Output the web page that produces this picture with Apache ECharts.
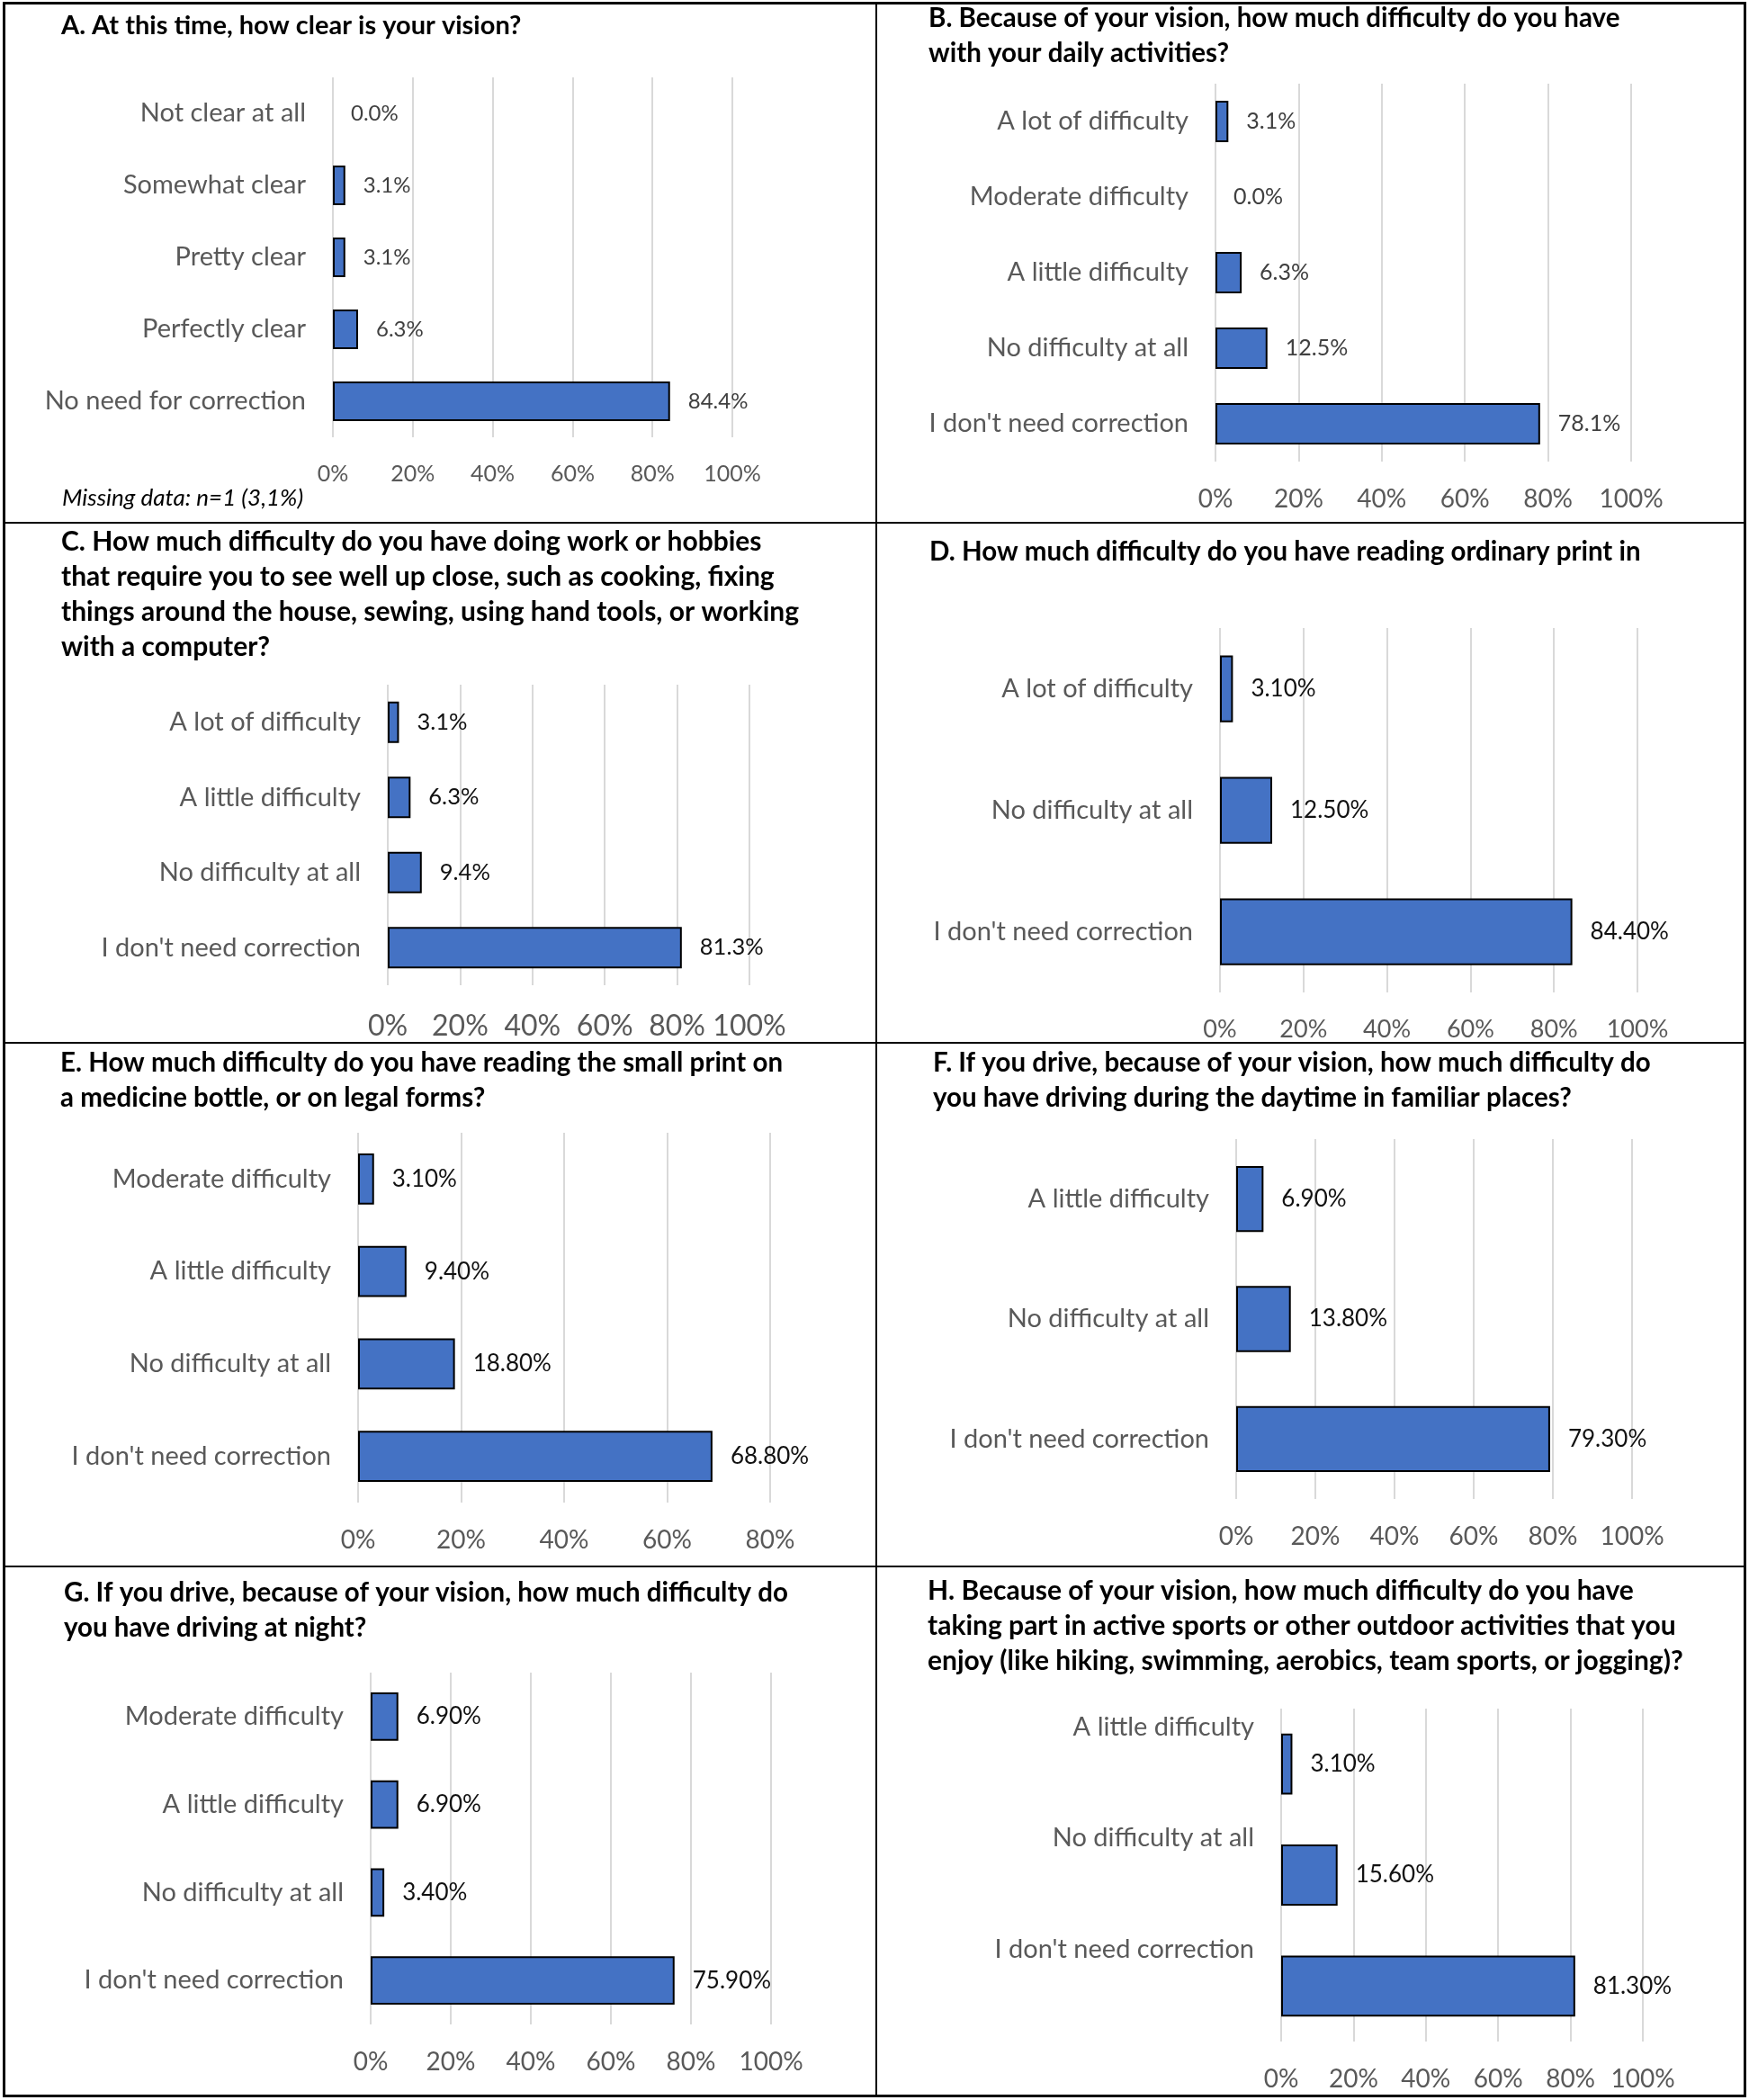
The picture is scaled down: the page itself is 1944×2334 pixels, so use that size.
<!DOCTYPE html>
<html>
<head>
<meta charset="utf-8">
<script src="https://cdn.jsdelivr.net/npm/echarts@6/dist/echarts.min.js"></script>
<style>
html,body{margin:0;padding:0;background:#fff;}
#chart{width:1944px;height:2334px;}
</style>
</head>
<body>
<div id="chart"></div>
<script>
// ---------------- DATA ----------------
const ticks = [0, 20, 40, 60, 80, 100];

const titleA = ['A. At this time, how clear is your vision?'];
const catsA = ['Not clear at all', 'Somewhat clear', 'Pretty clear', 'Perfectly clear', 'No need for correction'];
const valsA = [0.0, 3.1, 3.1, 6.3, 84.4];

const titleB = ['B. Because of your vision, how much difficulty do you have', 'with your daily activities?'];
const catsB = ['A lot of difficulty', 'Moderate difficulty', 'A little difficulty', 'No difficulty at all', "I don't need correction"];
const valsB = [3.1, 0.0, 6.3, 12.5, 78.1];

const titleC = ['C. How much difficulty do you have doing work or hobbies',
  'that require you to see well up close, such as cooking, fixing',
  'things around the house, sewing, using hand tools, or working',
  'with a computer?'];
const catsC = ['A lot of difficulty', 'A little difficulty', 'No difficulty at all', "I don't need correction"];
const valsC = [3.1, 6.3, 9.4, 81.3];

const titleD = ['D. How much difficulty do you have reading ordinary print in'];
const catsD = ['A lot of difficulty', 'No difficulty at all', "I don't need correction"];
const valsD = [3.1, 12.5, 84.4];

const titleE = ['E. How much difficulty do you have reading the small print on', 'a medicine bottle, or on legal forms?'];
const catsE = ['Moderate difficulty', 'A little difficulty', 'No difficulty at all', "I don't need correction"];
const valsE = [3.1, 9.4, 18.8, 68.8];

const titleF = ['F. If you drive, because of your vision, how much difficulty do', 'you have driving during the daytime in familiar places?'];
const catsF = ['A little difficulty', 'No difficulty at all', "I don't need correction"];
const valsF = [6.9, 13.8, 79.3];

const titleG = ['G. If you drive, because of your vision, how much difficulty do', 'you have driving at night?'];
const catsG = ['Moderate difficulty', 'A little difficulty', 'No difficulty at all', "I don't need correction"];
const valsG = [6.9, 6.9, 3.4, 75.9];

const titleH = ['H. Because of your vision, how much difficulty do you have',
  'taking part in active sports or other outdoor activities that you',
  'enjoy (like hiking, swimming, aerobics, team sports, or jogging)?'];
const catsH = ['A little difficulty', 'No difficulty at all', "I don't need correction"];
const valsH = [3.1, 15.6, 81.3];

const noteA = 'Missing data: n=1 (3,1%)';

// ---------------- LAYOUT / STYLE ----------------
const FONT = 'Lato';
const panels = [
  {title: titleA, cats: catsA, vals: valsA, dec: 1, max: 100, tx: 68,   ty: 9,    gl: 370,  gr: 814,  gt: 86,   gb: 486,  tick: 25, tickMargin: 28, valSize: 24, valColor: '#404040', titleSize: 29},
  {title: titleB, cats: catsB, vals: valsB, dec: 1, max: 100, tx: 1032, ty: 1,    gl: 1351, gr: 1813, gt: 93,   gb: 513,  tick: 28, tickMargin: 28, valSize: 25, valColor: '#404040', titleSize: 29.5},
  {title: titleC, cats: catsC, vals: valsC, dec: 1, max: 100, tx: 68,   ty: 583,  gl: 431,  gr: 833,  gt: 761,  gb: 1095, tick: 32, tickMargin: 30, valSize: 25.5, valColor: '#111', titleSize: 30},
  {title: titleD, cats: catsD, vals: valsD, dec: 2, max: 100, tx: 1033, ty: 594,  gl: 1356, gr: 1820, gt: 698,  gb: 1103, tick: 27, tickMargin: 28, valSize: 26, valColor: '#111', titleSize: 29.5},
  {title: titleE, cats: catsE, vals: valsE, dec: 2, max: 80,  tx: 67,   ty: 1162, gl: 398,  gr: 856,  gt: 1259, gb: 1670, tick: 28, tickMargin: 28, valSize: 26, valColor: '#111', titleSize: 29.5},
  {title: titleF, cats: catsF, vals: valsF, dec: 2, max: 100, tx: 1037, ty: 1162, gl: 1374, gr: 1814, gt: 1266, gb: 1666, tick: 28, tickMargin: 28, valSize: 26, valColor: '#111', titleSize: 29.5},
  {title: titleG, cats: catsG, vals: valsG, dec: 2, max: 100, tx: 71,   ty: 1751, gl: 412,  gr: 857,  gt: 1859, gb: 2250, tick: 28, tickMargin: 28, valSize: 26, valColor: '#111', titleSize: 29.5},
  {title: titleH, cats: catsH, vals: valsH, dec: 2, max: 100, tx: 1031, ty: 1749, gl: 1424, gr: 1826, gt: 1899, gb: 2269, tick: 28, tickMargin: 28, valSize: 26, valColor: '#111', titleSize: 30, labelShift: 41}
];

const option = {
  backgroundColor: '#ffffff',
  animation: false,
  title: [],
  grid: [],
  xAxis: [],
  yAxis: [],
  series: [],
  graphic: []
};

panels.forEach((p, i) => {
  option.title.push({
    text: p.title.join('\n'),
    left: p.tx, top: p.ty, padding: 0,
    textStyle: {fontFamily: FONT, fontWeight: 'bold', fontSize: p.titleSize, lineHeight: 39, color: '#000'}
  });
  option.grid.push({
    left: p.gl, top: p.gt, width: p.gr - p.gl, height: p.gb - p.gt,
    containLabel: false, outerBoundsMode: 'none'
  });
  option.xAxis.push({
    type: 'value', gridIndex: i, min: 0, max: p.max, interval: 20,
    axisLine: {show: false}, axisTick: {show: false},
    splitLine: {show: true, lineStyle: {color: '#d9d9d9', width: 2}},
    axisLabel: {
      formatter: v => v + '%', color: '#595959', fontFamily: FONT,
      fontSize: p.tick, margin: p.tickMargin, showMinLabel: true, showMaxLabel: true
    }
  });
  const yLabel = {color: '#595959', fontFamily: FONT, fontSize: 29, margin: 30, interval: 0, hideOverlap: false};
  if (p.labelShift) {
    yLabel.lineHeight = p.labelShift * 2;
    yLabel.formatter = v => v + '\n\u00a0';
  }
  option.yAxis.push({
    type: 'category', gridIndex: i, inverse: true, data: p.cats,
    axisLine: {show: false}, axisTick: {show: false}, splitLine: {show: false},
    axisLabel: yLabel
  });
  option.series.push({
    type: 'bar', xAxisIndex: i, yAxisIndex: i,
    barWidth: '55%',
    data: p.vals.map(v => v === 0 ? {value: v, itemStyle: {borderWidth: 0}} : v),
    itemStyle: {color: '#4472C4', borderColor: '#000', borderWidth: 2},
    label: {
      show: true, position: 'right', distance: 20,
      formatter: d => d.value.toFixed(p.dec) + '%',
      color: p.valColor, fontFamily: FONT, fontSize: p.valSize
    }
  });
});

// note in panel A
option.graphic.push({
  type: 'text', left: 69, top: 541,
  style: {text: noteA, fontFamily: FONT, fontStyle: 'italic', fontSize: 26, fill: '#000'}
});
// borders
const lineStyle = {stroke: '#000', lineWidth: 2};
option.graphic.push({type: 'rect', shape: {x: 4.5, y: 3.5, width: 1935, height: 2326}, style: {fill: 'none', stroke: '#000', lineWidth: 3}});
option.graphic.push({type: 'line', shape: {x1: 974, y1: 3, x2: 974, y2: 2330}, style: lineStyle});
[581, 1159, 1741].forEach(y => {
  option.graphic.push({type: 'line', shape: {x1: 4, y1: y, x2: 1940, y2: y}, style: lineStyle});
});

const chart = echarts.init(document.getElementById('chart'), null, {renderer: 'canvas'});
chart.setOption(option);
</script>
</body>
</html>
